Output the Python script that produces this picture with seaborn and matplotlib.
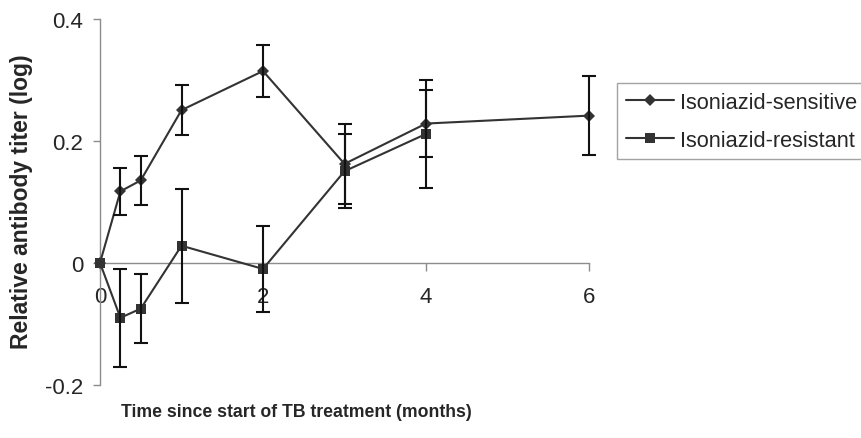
import numpy as np
import pandas as pd
import matplotlib
matplotlib.use("Agg")
import matplotlib.pyplot as plt
import seaborn as sns

# Antibody titer over the course of TB treatment (log scale, relative to baseline)
months_sensitive = [0, 0.25, 0.5, 1, 2, 3, 4, 6]
titer_sensitive = [0, 0.117, 0.135, 0.250, 0.314, 0.162, 0.228, 0.241]
err_sensitive = [0, 0.039, 0.040, 0.041, 0.043, 0.065, 0.055, 0.065]

months_resistant = [0, 0.25, 0.5, 1, 2, 3, 4]
titer_resistant = [0, -0.090, -0.075, 0.028, -0.010, 0.150, 0.211]
err_resistant = [0, 0.080, 0.057, 0.093, 0.071, 0.061, 0.088]

series_names = ["Isoniazid-sensitive", "Isoniazid-resistant"]
x_ticks = [0, 2, 4, 6]
y_ticks = [-0.2, 0, 0.2, 0.4]
y_tick_labels = ["-0.2", "0", "0.2", "0.4"]

sns.set_style("white")
plt.rcParams["font.family"] = ["Liberation Sans", "DejaVu Sans"]

W, H = 862, 439
fig = plt.figure(figsize=(W / 100, H / 100), dpi=100)
ax = fig.add_axes([100 / W, 1 - 386 / H, (589 - 100) / W, (386 - 19.5) / H])

line_color = "#333333"
bar_color = "#111111"
axis_color = "#8c8c8c"

df_s = pd.DataFrame({"month": months_sensitive, "titer": titer_sensitive})
df_r = pd.DataFrame({"month": months_resistant, "titer": titer_resistant})

sns.lineplot(data=df_s, x="month", y="titer", ax=ax, color=line_color,
             marker="D", markersize=6.5, linewidth=1.5, markeredgewidth=0,
             label=series_names[0], clip_on=False, zorder=3)
sns.lineplot(data=df_r, x="month", y="titer", ax=ax, color=line_color,
             marker="s", markersize=7.4, linewidth=1.5, markeredgewidth=0,
             label=series_names[1], clip_on=False, zorder=3)

for mx, my, me in [(months_sensitive, titer_sensitive, err_sensitive),
                   (months_resistant, titer_resistant, err_resistant)]:
    mx, my, me = np.asarray(mx), np.asarray(my), np.asarray(me)
    keep = me > 0
    ax.errorbar(mx[keep], my[keep], yerr=me[keep], fmt="none",
                ecolor=bar_color, elinewidth=1.5, capsize=5, capthick=1.5,
                clip_on=False, zorder=4)

ax.set_xlim(0, 6)
ax.set_ylim(-0.2, 0.4)
ax.set_xticks(x_ticks)
ax.set_xticklabels([str(t) for t in x_ticks])
ax.set_yticks(y_ticks)
ax.set_yticklabels(y_tick_labels)
ax.set_xlabel("")
ax.set_ylabel("")

for side in ("top", "right"):
    ax.spines[side].set_visible(False)
ax.spines["bottom"].set_position(("data", 0))
for side in ("left", "bottom"):
    ax.spines[side].set_color(axis_color)
    ax.spines[side].set_linewidth(1.0)

ax.tick_params(axis="y", direction="out", length=5, width=1, color=axis_color,
               labelsize=16, pad=7, left=True)
ax.tick_params(axis="x", direction="out", length=6, width=1, color=axis_color,
               labelsize=16, pad=11, bottom=True)

fig.text(22 / W, 1 - 202 / H, "Relative antibody titer (log)", rotation=90,
         ha="center", va="center", fontsize=16.5, fontweight="bold")
fig.text(296 / W, 1 - 413 / H, "Time since start of TB treatment (months)",
         ha="center", va="center", fontsize=12.7, fontweight="bold")

leg = ax.legend(loc="upper left", bbox_to_anchor=(617 / W, 1 - 84 / H),
                bbox_transform=fig.transFigure, fontsize=15.7, frameon=True,
                fancybox=False, edgecolor=axis_color, borderaxespad=0,
                handlelength=2.2, handletextpad=0.3, labelspacing=0.78,
                borderpad=0.4)
leg.get_frame().set_linewidth(1.0)

fig.savefig("out.png", dpi=100)
